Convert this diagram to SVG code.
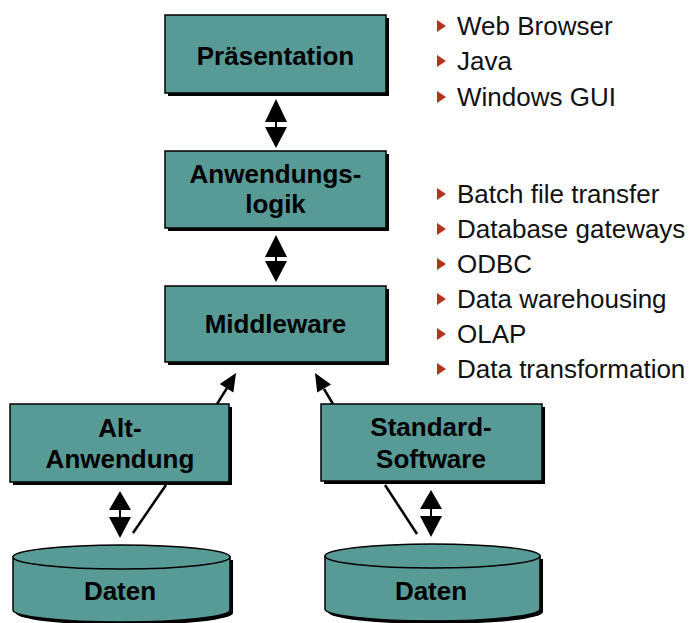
<svg xmlns="http://www.w3.org/2000/svg" width="694" height="623" viewBox="0 0 694 623">
<style>
.box{fill:#579a96;stroke:#000;stroke-width:1.5}
.sh{fill:#000}
.lbl{font-family:"Liberation Sans",Arial,sans-serif;font-weight:bold;font-size:26px;fill:#000;text-anchor:middle}
.item{font-family:"Liberation Sans",Arial,sans-serif;font-size:26px;fill:#111}
.bul{fill:#b3341a}
.ln{stroke:#000;stroke-width:2.5;fill:none}
.dbl{fill:#000}
</style>
<rect width="694" height="623" fill="#fff"/>

<g id="connectors">
<path class="dbl" d="M276,99 L287,122 L277,122 L277,127 L287,127 L276,148 L265,127 L275,127 L275,122 L265,122 Z"/>
<path class="dbl" d="M276,235 L287,257 L277,257 L277,261 L287,261 L276,282 L265,261 L275,261 L275,257 L265,257 Z"/>
<path class="dbl" d="M120,491 L131,510 L121,510 L121,517 L131,517 L120,538 L109,517 L119,517 L119,510 L109,510 Z"/>
<path class="dbl" d="M431,490 L442,509 L432,509 L432,516 L442,516 L431,537 L420,516 L430,516 L430,509 L420,509 Z"/>
<line class="ln" x1="217" y1="404" x2="227" y2="388"/>
<path class="dbl" d="M236,373 L233.4,392.5 L219.8,384.1 Z"/>
<line class="ln" x1="333" y1="404" x2="324" y2="389"/>
<path class="dbl" d="M315,373 L331,384.6 L317.2,392.6 Z"/>
<line class="ln" x1="166" y1="485" x2="133" y2="533"/>
<line class="ln" x1="385" y1="485" x2="417" y2="534"/>
</g>

<g id="praesentation">
<rect class="sh" x="168" y="18" width="221" height="78"/>
<rect class="box" x="165" y="15" width="221" height="78"/>
<text class="lbl" x="275.5" y="65">Präsentation</text>
</g>

<g id="anwendungslogik">
<rect class="sh" x="168" y="154" width="221" height="77"/>
<rect class="box" x="165" y="151" width="221" height="77"/>
<text class="lbl" x="275.5" y="183">Anwendungs-</text>
<text class="lbl" x="275.5" y="213">logik</text>
</g>

<g id="middleware">
<rect class="sh" x="168" y="289" width="221" height="76"/>
<rect class="box" x="165" y="286" width="221" height="76"/>
<text class="lbl" x="275.5" y="333">Middleware</text>
</g>

<g id="altanwendung">
<rect class="sh" x="13" y="407" width="219" height="78"/>
<rect class="box" x="10" y="404" width="219" height="78"/>
<text class="lbl" x="120" y="437">Alt-</text>
<text class="lbl" x="120" y="468">Anwendung</text>
</g>

<g id="standardsoftware">
<rect class="sh" x="324" y="407" width="221" height="77"/>
<rect class="box" x="321" y="404" width="221" height="77"/>
<text class="lbl" x="431" y="436">Standard-</text>
<text class="lbl" x="431" y="468">Software</text>
</g>

<g id="daten1">
<path class="sh" d="M16,560 L16,613 A108.5,12 0 0 0 233,613 L233,560 Z"/>
<path class="box" d="M13,557 L13,610 A108.5,12 0 0 0 230,610 L230,557 Z"/>
<ellipse class="box" cx="121.5" cy="557" rx="108.5" ry="12"/>
<text class="lbl" x="120" y="600">Daten</text>
</g>

<g id="daten2">
<path class="sh" d="M328,559 L328,612 A107.5,12 0 0 0 543,612 L543,559 Z"/>
<path class="box" d="M325,556 L325,609 A107.5,12 0 0 0 540,609 L540,556 Z"/>
<ellipse class="box" cx="432.5" cy="556" rx="107.5" ry="12"/>
<text class="lbl" x="431" y="600">Daten</text>
</g>

<g id="list1">
<path class="bul" d="M437,20 L446,26 L437,32 Z"/>
<text class="item" x="457" y="35">Web Browser</text>
<path class="bul" d="M437,55 L446,61 L437,67 Z"/>
<text class="item" x="457" y="70">Java</text>
<path class="bul" d="M437,91 L446,97 L437,103 Z"/>
<text class="item" x="457" y="106">Windows GUI</text>
</g>

<g id="list2">
<path class="bul" d="M437,188 L446,194 L437,200 Z"/>
<text class="item" x="457" y="203">Batch file transfer</text>
<path class="bul" d="M437,223 L446,229 L437,235 Z"/>
<text class="item" x="457" y="238">Database gateways</text>
<path class="bul" d="M437,258 L446,264 L437,270 Z"/>
<text class="item" x="457" y="273">ODBC</text>
<path class="bul" d="M437,293 L446,299 L437,305 Z"/>
<text class="item" x="457" y="308">Data warehousing</text>
<path class="bul" d="M437,328 L446,334 L437,340 Z"/>
<text class="item" x="457" y="343">OLAP</text>
<path class="bul" d="M437,363 L446,369 L437,375 Z"/>
<text class="item" x="457" y="378">Data transformation</text>
</g>
</svg>
